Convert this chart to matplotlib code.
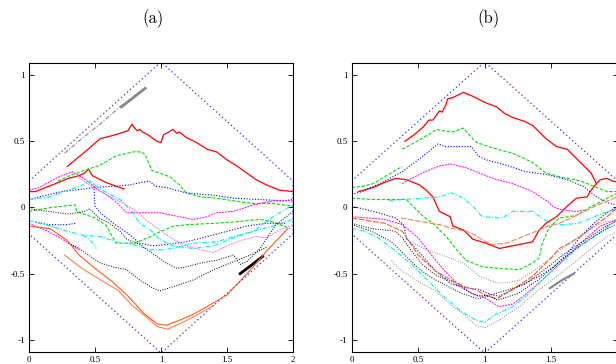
import numpy as np
import matplotlib
matplotlib.use("Agg")
import matplotlib.pyplot as plt

# ---- data (x in [0,2], y in [-1.1,1.1]) ----
diamond_x = [0, 1, 2, 2, 1, 0, 0]
diamond_y = [0.2, 1.1, 0.2, -0.2, -1.1, -0.2, 0.2]

xticks = [0, 0.5, 1, 1.5, 2]
xtick_labels = ["0", "0.5", "1", "1.5", "2"]
yticks = [-1, -0.5, 0, 0.5, 1]
ytick_labels = ["-1", "-0.5", "0", "0.5", "1"]

# panel (a)
a_gray = [(0.27, 0.41), (0.40, 0.52), (0.55, 0.64), (0.70, 0.77), (0.80, 0.84), (0.88, 0.90)]
a_gray_thick = [(0.70, 0.76), (0.79, 0.83), (0.88, 0.90)]
a_red_top = [(0.29, 0.31), (0.40, 0.40), (0.54, 0.52), (0.62, 0.54), (0.69, 0.56), (0.75, 0.58),
             (0.78, 0.63), (0.80, 0.60), (0.82, 0.58), (0.84, 0.59), (0.86, 0.57), (0.90, 0.55),
             (0.94, 0.52), (0.97, 0.50), (1.00, 0.49), (1.02, 0.55), (1.06, 0.57), (1.09, 0.59),
             (1.12, 0.56), (1.14, 0.57), (1.19, 0.53), (1.27, 0.49), (1.35, 0.44), (1.42, 0.42),
             (1.50, 0.36), (1.58, 0.31), (1.65, 0.26), (1.72, 0.21), (1.80, 0.17), (1.90, 0.13),
             (2.00, 0.12)]
a_red_low = [(0.0, 0.12), (0.05, 0.12), (0.15, 0.16), (0.30, 0.22), (0.38, 0.24), (0.42, 0.26),
             (0.45, 0.29), (0.48, 0.24), (0.58, 0.19), (0.66, 0.16), (0.72, 0.14)]
a_green_top = [(0.22, 0.20), (0.31, 0.24), (0.42, 0.28), (0.54, 0.32), (0.66, 0.39), (0.79, 0.42),
               (0.85, 0.42), (0.88, 0.40), (0.90, 0.35), (0.93, 0.28), (0.99, 0.26), (1.07, 0.23),
               (1.14, 0.17), (1.19, 0.11), (1.30, 0.08), (1.42, 0.07), (1.55, 0.05), (1.70, 0.03),
               (1.85, 0.03), (2.00, 0.01)]
a_green_low = [(0.0, -0.03), (0.17, 0.0), (0.35, 0.02), (0.36, -0.03), (0.50, -0.08), (0.58, -0.13),
               (0.62, -0.20), (0.66, -0.27), (0.80, -0.27), (0.92, -0.22), (1.00, -0.18), (1.10, -0.14),
               (1.20, -0.13), (1.40, -0.12), (1.55, -0.11), (1.75, -0.09), (1.85, -0.11), (1.98, -0.16)]
a_blue_top = [(0.0, 0.06), (0.12, 0.09), (0.25, 0.12), (0.50, 0.15), (0.76, 0.17), (0.91, 0.20),
              (0.96, 0.16), (1.04, 0.15), (1.19, 0.11), (1.42, 0.09), (1.55, 0.07), (1.75, 0.06),
              (1.93, 0.05), (2.00, 0.06)]
a_blue_mid = [(0.49, 0.18), (0.50, 0.01), (0.54, -0.04), (0.64, -0.12), (0.74, -0.19), (0.84, -0.27),
              (0.94, -0.29), (1.04, -0.28), (1.19, -0.26), (1.35, -0.22), (1.50, -0.18), (1.65, -0.14),
              (1.80, -0.12), (1.95, -0.12)]
a_blue_short = [(0.05, -0.11), (0.15, -0.13), (0.28, -0.13), (0.36, -0.12)]
a_magenta_top = [(0.0, 0.13), (0.08, 0.15), (0.20, 0.22), (0.33, 0.27), (0.43, 0.21), (0.50, 0.15),
                 (0.58, 0.10), (0.65, 0.05), (0.74, -0.04), (0.89, -0.04), (0.99, -0.04), (1.09, -0.06),
                 (1.24, -0.09), (1.35, -0.07), (1.42, -0.04), (1.55, -0.03), (1.70, 0.02), (1.85, 0.05),
                 (2.00, 0.05)]
a_magenta_mid = [(0.36, 0.24), (0.47, 0.16), (0.58, 0.10), (0.70, 0.04), (0.80, -0.02), (0.88, -0.09),
                 (0.99, -0.17), (1.09, -0.24), (1.19, -0.29), (1.30, -0.32), (1.40, -0.34), (1.50, -0.29),
                 (1.60, -0.25), (1.72, -0.22), (1.80, -0.23), (1.90, -0.17), (2.00, -0.13)]
a_magenta_short = [(0.0, -0.12), (0.12, -0.17), (0.22, -0.22), (0.30, -0.27), (0.38, -0.32)]
a_cyan_top = [(0.0, 0.06), (0.16, 0.08), (0.29, 0.13), (0.39, 0.16), (0.46, 0.20), (0.51, 0.16),
              (0.59, 0.11), (0.69, 0.06), (0.77, -0.02), (0.84, -0.12), (0.92, -0.17), (0.99, -0.24),
              (1.09, -0.29), (1.24, -0.31), (1.40, -0.29), (1.55, -0.23), (1.70, -0.18), (1.85, -0.07),
              (1.98, 0.01), (2.00, 0.03)]
a_cyan_low = [(0.0, -0.10), (0.16, -0.14), (0.29, -0.18), (0.41, -0.21), (0.54, -0.22), (0.66, -0.26),
              (0.79, -0.28), (0.92, -0.32), (0.99, -0.32), (1.09, -0.31), (1.24, -0.27), (1.42, -0.26),
              (1.55, -0.22), (1.70, -0.18), (1.85, -0.14), (2.00, -0.09)]
a_cyan_short = [(0.41, -0.21), (0.46, -0.24), (0.51, -0.31)]
a_black_top = [(0.0, -0.01), (0.15, -0.03), (0.30, -0.05), (0.42, -0.03), (0.46, -0.01), (0.53, -0.08),
               (0.61, -0.12), (0.69, -0.18), (0.74, -0.24), (0.84, -0.28), (0.94, -0.35), (1.04, -0.42),
               (1.12, -0.46), (1.19, -0.45), (1.30, -0.42), (1.42, -0.40), (1.55, -0.36), (1.60, -0.43),
               (1.65, -0.41), (1.75, -0.31), (1.87, -0.13), (1.95, -0.07), (2.00, -0.03)]
a_black_low = [(0.30, -0.27), (0.38, -0.31), (0.45, -0.36), (0.54, -0.42), (0.64, -0.45), (0.74, -0.47),
               (0.84, -0.55), (0.94, -0.61), (0.99, -0.63), (1.09, -0.60), (1.24, -0.55), (1.40, -0.47),
               (1.55, -0.41), (1.70, -0.35), (1.80, -0.30)]
a_black_thick = [(1.60, -0.50), (1.68, -0.44), (1.77, -0.37)]
a_orange_top = [(0.0, -0.14), (0.08, -0.15), (0.16, -0.16), (0.29, -0.25), (0.38, -0.36), (0.50, -0.46),
                (0.63, -0.56), (0.75, -0.67), (0.87, -0.80), (0.97, -0.88), (1.04, -0.89), (1.12, -0.86),
                (1.24, -0.81), (1.40, -0.72), (1.50, -0.66), (1.67, -0.48), (1.80, -0.33), (1.96, -0.16)]
a_orange_low = [(0.27, -0.36), (0.40, -0.46), (0.58, -0.57), (0.68, -0.63), (0.78, -0.74), (0.88, -0.82),
                (0.97, -0.90), (1.05, -0.92), (1.14, -0.88), (1.26, -0.82), (1.40, -0.74)]

# panel (b)
b_red_top = [(0.40, 0.50), (0.47, 0.55), (0.54, 0.61), (0.58, 0.66), (0.61, 0.66), (0.66, 0.73),
             (0.68, 0.72), (0.71, 0.78), (0.72, 0.82), (0.76, 0.83), (0.84, 0.87), (0.91, 0.84),
             (1.01, 0.79), (1.09, 0.76), (1.15, 0.71), (1.21, 0.68), (1.30, 0.65), (1.36, 0.62),
             (1.46, 0.52), (1.54, 0.46), (1.58, 0.45), (1.62, 0.44), (1.72, 0.34), (1.80, 0.26),
             (1.82, 0.22), (1.84, 0.18), (1.87, 0.21), (1.92, 0.22), (1.96, 0.20), (2.00, 0.19)]
b_red_low = [(0.05, 0.12), (0.16, 0.15), (0.25, 0.19), (0.33, 0.22), (0.41, 0.21), (0.51, 0.17),
             (0.56, 0.13), (0.61, 0.08), (0.66, -0.03), (0.74, -0.07), (0.76, -0.14), (0.84, -0.17),
             (0.91, -0.24), (1.01, -0.27), (1.11, -0.31), (1.21, -0.29), (1.36, -0.26), (1.41, -0.17),
             (1.46, -0.12), (1.54, -0.07), (1.62, 0.01), (1.69, 0.07), (1.77, 0.08), (1.80, 0.13),
             (1.84, 0.18)]
b_green_top = [(0.38, 0.44), (0.51, 0.51), (0.64, 0.59), (0.68, 0.58), (0.76, 0.57), (0.84, 0.60),
               (0.89, 0.54), (0.94, 0.49), (1.06, 0.45), (1.21, 0.41), (1.36, 0.34), (1.46, 0.26),
               (1.57, 0.23), (1.72, 0.20), (1.82, 0.16), (1.92, 0.12), (2.00, 0.12)]
b_green_left = [(0.0, 0.15), (0.08, 0.16), (0.16, 0.18), (0.28, 0.25), (0.38, 0.31)]
b_green_mid = [(0.0, 0.07), (0.16, 0.06), (0.30, 0.06), (0.41, 0.06), (0.47, 0.0), (0.54, -0.07),
               (0.61, -0.12), (0.71, -0.22), (0.79, -0.32), (0.86, -0.40), (0.99, -0.45), (1.11, -0.46),
               (1.26, -0.47), (1.36, -0.42), (1.41, -0.38), (1.43, -0.28), (1.48, -0.16), (1.56, -0.08),
               (1.69, -0.06), (1.79, 0.0), (1.92, 0.07), (2.00, 0.11)]
b_blue_top = [(0.0, 0.10), (0.08, 0.12), (0.25, 0.20), (0.38, 0.27), (0.50, 0.36), (0.65, 0.48),
              (0.70, 0.46), (0.83, 0.46), (0.90, 0.46), (0.95, 0.39), (1.01, 0.36), (1.16, 0.32),
              (1.31, 0.27), (1.46, 0.25), (1.62, 0.21), (1.74, 0.16), (1.84, 0.08), (1.94, 0.03),
              (2.00, 0.02)]
b_magenta_top = [(0.38, 0.18), (0.45, 0.22), (0.55, 0.27), (0.65, 0.31), (0.74, 0.33), (0.86, 0.30),
                 (0.96, 0.26), (1.06, 0.22), (1.21, 0.18), (1.36, 0.12), (1.48, 0.04), (1.52, 0.0),
                 (1.59, -0.02), (1.69, -0.03), (1.75, -0.02)]
b_cyan_top = [(0.28, 0.05), (0.38, 0.06), (0.54, 0.07), (0.66, 0.08), (0.75, 0.11), (0.84, 0.07),
              (0.92, 0.0), (0.98, -0.07), (1.13, -0.08), (1.21, -0.03), (1.36, -0.03), (1.43, -0.08),
              (1.51, -0.13), (1.60, -0.13), (1.70, -0.12), (1.80, -0.08), (1.90, -0.04), (2.00, -0.01)]
b_orange_top = [(0.37, -0.08), (0.54, -0.11), (0.66, -0.13), (0.76, -0.16), (0.86, -0.18), (0.93, -0.21),
                (0.99, -0.25), (1.06, -0.28), (1.16, -0.27), (1.29, -0.22), (1.41, -0.17), (1.48, -0.14),
                (1.56, -0.12), (1.65, -0.08), (1.75, -0.03), (1.85, 0.02), (1.95, 0.06), (2.00, 0.08)]
b_blue_low = [(0.0, 0.01), (0.08, -0.01), (0.20, -0.04), (0.33, -0.08), (0.39, -0.13), (0.41, -0.23),
              (0.50, -0.33), (0.63, -0.48), (0.75, -0.58), (0.88, -0.61), (0.96, -0.62), (1.05, -0.66),
              (1.11, -0.67), (1.21, -0.62), (1.31, -0.57), (1.41, -0.52), (1.52, -0.45), (1.62, -0.35),
              (1.72, -0.22), (1.82, -0.12), (1.92, -0.04), (2.00, 0.01)]
b_magenta_low = [(0.0, -0.07), (0.25, -0.09), (0.38, -0.13), (0.50, -0.23), (0.60, -0.36), (0.70, -0.48),
                 (0.80, -0.58), (0.90, -0.65), (1.00, -0.68), (1.06, -0.72), (1.11, -0.75), (1.21, -0.73),
                 (1.29, -0.67), (1.41, -0.57), (1.57, -0.42), (1.72, -0.27), (1.87, -0.14), (2.00, -0.09)]
b_orange_low = [(0.0, -0.08), (0.25, -0.12), (0.38, -0.18), (0.50, -0.36), (0.63, -0.48), (0.75, -0.55),
                (0.85, -0.60), (0.93, -0.62), (1.00, -0.66), (1.09, -0.69), (1.21, -0.62), (1.36, -0.52),
                (1.51, -0.37), (1.56, -0.31), (1.64, -0.27), (1.72, -0.22), (1.82, -0.14), (1.92, -0.07),
                (2.00, 0.0)]
b_black_1 = [(0.0, -0.12), (0.15, -0.16), (0.33, -0.18), (0.38, -0.23), (0.45, -0.33), (0.53, -0.43),
             (0.63, -0.51), (0.75, -0.56), (0.85, -0.62), (0.95, -0.67), (1.05, -0.66), (1.15, -0.63),
             (1.30, -0.58), (1.45, -0.47), (1.60, -0.35), (1.75, -0.25), (1.90, -0.15), (2.00, -0.10)]
b_black_2 = [(0.0, -0.13), (0.15, -0.18), (0.30, -0.26), (0.40, -0.36), (0.50, -0.46), (0.60, -0.53),
             (0.73, -0.60), (0.83, -0.65), (0.95, -0.69), (1.03, -0.67), (1.10, -0.70), (1.25, -0.65),
             (1.40, -0.55), (1.55, -0.42), (1.70, -0.30), (1.85, -0.20), (2.00, -0.12)]
b_gray_1 = [(0.41, -0.24), (0.56, -0.32), (0.71, -0.37), (0.84, -0.42), (0.96, -0.52), (1.09, -0.57),
            (1.16, -0.57), (1.26, -0.55), (1.41, -0.45), (1.57, -0.32), (1.72, -0.21), (1.87, -0.12),
            (2.00, -0.09)]
b_gray_2 = [(0.30, -0.40), (0.35, -0.46), (0.50, -0.56), (0.63, -0.63), (0.75, -0.74), (0.85, -0.81),
            (0.93, -0.89), (1.00, -0.91), (1.11, -0.85), (1.26, -0.75), (1.41, -0.62), (1.57, -0.50),
            (1.67, -0.42), (1.79, -0.32), (1.92, -0.22), (2.00, -0.18)]
b_gray_thick = [(1.49, -0.61), (1.58, -0.55), (1.67, -0.50)]
b_cyan_low = [(0.0, -0.16), (0.10, -0.18), (0.20, -0.23), (0.33, -0.33), (0.45, -0.43), (0.58, -0.56),
              (0.70, -0.68), (0.83, -0.79), (0.93, -0.85), (1.00, -0.87), (1.06, -0.82), (1.21, -0.75),
              (1.31, -0.67), (1.41, -0.57), (1.57, -0.42), (1.72, -0.29), (1.84, -0.21), (2.00, -0.09)]

# ---- styles ----
RED, GREEN, BLUE, MAG, CYAN = "#ff0000", "#00e000", "#0000ff", "#ff00ff", "#00eeee"
ORANGE, BLACK, GRAY = "#ff5a1a", "#000000", "#888888"
SOLID = "-"
DASH = (0, (3, 1.5))
DOT = (0, (1, 1.5))
DASHDOT = (0, (4, 1.5, 1, 1.5))
FINE = (0, (2, 1))


def draw(ax, pts, color, ls, lw=0.8):
    p = np.array(pts)
    ax.plot(p[:, 0], p[:, 1], color=color, ls=ls, lw=lw)


def setup(ax):
    ax.plot(diamond_x, diamond_y, color="#2a2aff", ls=(0, (1, 2.2)), lw=0.9)
    ax.set_xlim(0, 2)
    ax.set_ylim(-1.09, 1.09)
    ax.set_xticks(xticks)
    ax.set_xticklabels(xtick_labels)
    ax.set_yticks(yticks)
    ax.set_yticklabels(ytick_labels)
    ax.tick_params(direction="in", top=True, right=True, length=3.5, width=0.6,
                   labelsize=6.5, pad=3)
    for lab in ax.get_xticklabels() + ax.get_yticklabels():
        lab.set_family("Liberation Serif")
    for s in ax.spines.values():
        s.set_linewidth(0.8)


fig = plt.figure(figsize=(6.16, 3.64), dpi=100)
ax_a = fig.add_axes([29 / 616, 12.3 / 364, 264 / 616, 288.5 / 364])
ax_b = fig.add_axes([351.7 / 616, 12.3 / 364, 266 / 616, 288.5 / 364])

# panel (a)
setup(ax_a)
draw(ax_a, a_gray, GRAY, DASHDOT, 0.8)
draw(ax_a, a_gray_thick, GRAY, SOLID, 2.0)
draw(ax_a, a_red_top, RED, SOLID, 0.9)
draw(ax_a, a_red_low, RED, SOLID, 0.9)
draw(ax_a, a_green_top, GREEN, DASH)
draw(ax_a, a_green_low, GREEN, DASH)
draw(ax_a, a_blue_top, BLUE, DOT)
draw(ax_a, a_blue_mid, BLUE, DOT)
draw(ax_a, a_blue_short, BLUE, DOT)
draw(ax_a, a_magenta_top, MAG, FINE, 0.7)
draw(ax_a, a_magenta_mid, "#ee77ee", FINE, 0.7)
draw(ax_a, a_magenta_short, MAG, FINE, 0.7)
draw(ax_a, a_cyan_top, CYAN, DASHDOT)
draw(ax_a, a_cyan_low, CYAN, DASHDOT)
draw(ax_a, a_cyan_short, CYAN, DASHDOT)
draw(ax_a, a_black_top, BLACK, DOT, 0.7)
draw(ax_a, a_black_low, BLACK, DOT, 0.7)
draw(ax_a, a_black_thick, BLACK, SOLID, 2.0)
draw(ax_a, a_orange_top, ORANGE, SOLID, 0.8)
draw(ax_a, a_orange_low, "#ff8050", SOLID, 0.8)

# panel (b)
setup(ax_b)
# the right edge of panel (b) is cropped in the original, so its "2" label is not visible
ax_b.get_xticklabels()[-1].set_visible(False)
draw(ax_b, b_red_top, RED, SOLID, 0.9)
draw(ax_b, b_red_low, RED, SOLID, 0.9)
draw(ax_b, b_green_top, GREEN, DASH)
draw(ax_b, b_green_left, GREEN, DASH)
draw(ax_b, b_green_mid, GREEN, DASH)
draw(ax_b, b_blue_top, BLUE, DOT)
draw(ax_b, b_blue_low, BLUE, DOT)
draw(ax_b, b_magenta_top, MAG, FINE, 0.7)
draw(ax_b, b_magenta_low, MAG, FINE, 0.7)
draw(ax_b, b_cyan_top, CYAN, DASHDOT)
draw(ax_b, b_cyan_low, CYAN, DASHDOT)
draw(ax_b, b_orange_top, "#ff8050", (0, (5, 1.5)), 0.8)
draw(ax_b, b_orange_low, ORANGE, (0, (5, 1.5)), 0.8)
draw(ax_b, b_black_1, BLACK, DOT, 0.7)
draw(ax_b, b_black_2, BLACK, DOT, 0.7)
draw(ax_b, b_gray_1, GRAY, DOT, 0.7)
draw(ax_b, b_gray_2, GRAY, DOT, 0.7)
draw(ax_b, b_gray_thick, GRAY, SOLID, 1.6)

fig.text(153 / 616, 1 - 19 / 364, "(a)", ha="center", va="center", fontsize=12, family="cmr10")
fig.text(489 / 616, 1 - 19 / 364, "(b)", ha="center", va="center", fontsize=12, family="cmr10")

fig.savefig("out.png", dpi=100)
